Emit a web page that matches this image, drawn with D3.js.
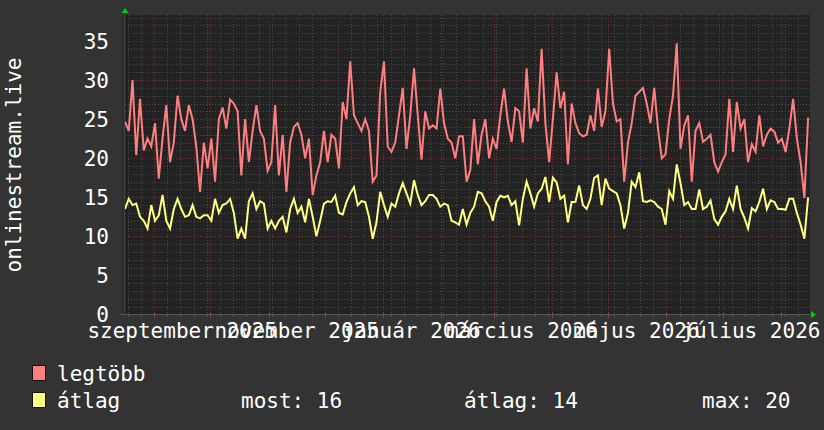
<!DOCTYPE html>
<html><head><meta charset="utf-8">
<script src="https://cdn.jsdelivr.net/npm/d3@7"></script>
<style>body{margin:0;background:#333333;} svg{display:block}</style>
</head><body>
<svg id="c" width="824" height="430"></svg>
<script>
// ---- data ----
const startDate = "2025-08-16T12:00:00Z";
const stepDays = 2;
const maxValues = [
 24.7,23.5,30,20.4,27.6,21,22.5,21.5,24.5,17.4,
 22.5,26.8,19.5,22,28,25,23.5,26.8,25,21.5,
 15.7,22,18.7,22.5,17,25,26.5,23.8,27.5,27,
 26,17.8,25,19.5,23.5,26.8,23.5,22.5,18.4,19.5,
 26.8,17.8,23,15.7,22,24,
 24.5,23,20,22.5,15.3,17.8,19.5,23.5,19.5,23.0,
 22.5,18.7,27.2,25,32.4,25.5,24.5,23.5,25,23.5,
 17,17.8,28.5,32.4,21.5,20.8,22,25.5,29,21.2,
 25.5,31.5,25.5,19.8,26,23.8,24.2,23.8,28.9,24.5,
 22.5,22,20,22.8,22.8,17,
 18.5,25,19.2,23,25,20,22.5,21.2,25.5,28.9,
 24.7,22.1,26.4,26,22,31.5,23.8,26.4,24.7,34,
 24.5,19.5,25,31,26.4,28.5,19.2,27,24.5,23.2,
 22.8,23,25.5,23.5,28.9,24,26,34,27,24.7,
 25,17,22,24.5,28,28.5,
 29,27,24.5,29,23.8,20,20.5,25,28,34.7,
 21.2,24.2,25.5,17,23.5,24.5,22.1,22.5,23,19.5,
 18.3,19.5,20.5,27.6,20.8,27.2,23.8,25,19.5,21.8,
 20.8,25.5,21.5,23,23.8,23.4,22,22.5,20.8,23.8,
 27.6,22.5,19.5,14.9,25.2
];
const avgValues = [
 13.5,14.8,14.0,14.2,12.5,12,11,14,12,12.7,
 15.3,12,11,13.5,14.8,13.5,12.5,12.7,14,12.5,
 12.3,12.7,12.7,12,14.8,13,14,14.2,14.8,13,
 9.7,11,9.7,14.5,15.5,13.5,14.5,14.2,11,12,
 11,12,12.5,10.5,13.5,14.8,
 13.0,13.8,11.8,14.8,12.5,10,12,14.2,14.5,14.4,
 15.2,13,12.8,14.4,15.5,16.3,14,14.5,14.4,12.5,
 9.7,11.8,15.7,14,12.5,14.2,13.8,15.5,16.8,15.5,
 14.2,17.2,15.3,14,14.5,15.3,15.3,14.8,13.8,14.2,
 14,12,11.8,11.5,13.5,11.5,
 13,13.8,15.7,15.5,14.5,13.8,12,14.4,15.2,15,
 15.2,14,14.5,11.4,14.8,17,15.5,13.8,15.5,16.1,
 17.6,14.4,17.5,16.9,14.8,15.2,11.8,14.4,14.4,16.5,
 14,13.5,14.8,17.5,17.8,14,17.4,16.1,15.8,15.5,
 14,11,13,17,16.3,18.2,
 14.5,14.4,14.6,14.4,13.8,13.5,11.5,15.8,14.8,19.2,
 16.8,14,14.4,13.5,13.5,16,13.5,13.8,14.6,12.2,
 11.5,12.5,13.2,14.8,13.5,16.5,13.5,12.4,11,13.6,
 13.2,14.4,16.1,13.5,14.6,14.4,13.5,13.5,13.4,14.8,
 14.8,13,11.5,9.7,15.0
];
const yTicks = [0,5,10,15,20,25,30,35];
const xLabelMonths = ["2025-09-01","2025-11-01","2026-01-01","2026-03-01","2026-05-01","2026-07-01"];
const xLabels = ["szeptember 2025","november 2025","január 2026","március 2026","május 2026","július 2026"];
const yTitle = "onlinestream.live";
const seriesNames = ["legtöbb","átlag"];
const statsLabels = ["most: 16","átlag: 14","max: 20"];
const domainStart = "2025-08-16T12:00:00Z";
const domainEnd = "2026-08-16T12:00:00Z";

// ---- drawing ----
const FONT = "'DejaVu Sans Mono', monospace";
const svg = d3.select("#c");
const L = 125, R = 810, T = 15, B = 314.5;
const x = d3.scaleUtc().domain([new Date(domainStart), new Date(domainEnd)]).range([L, R]);
const y = d3.scaleLinear().domain([0, 38.33]).range([B, T]);

const t0 = new Date(startDate).getTime();
const dayMs = 86400000;
const ptsMax = maxValues.map((v,i)=>({t:new Date(t0 + i*stepDays*dayMs), v}));
const ptsAvg = avgValues.map((v,i)=>({t:new Date(t0 + i*stepDays*dayMs), v}));

// background
svg.append("rect").attr("x",0).attr("y",0).attr("width",824).attr("height",430).attr("fill","#333333");
svg.append("rect").attr("x",L-2).attr("y",T).attr("width",R-L+2).attr("height",B-T).attr("fill","#222222");
svg.append("rect").attr("x",L-3).attr("y",T).attr("width",3).attr("height",B-T).attr("fill","#2c2c2c");

const grid = svg.append("g");
// horizontal minor grid
d3.range(1, 39).forEach(v=>{
  if (v % 5 === 0) return;
  grid.append("line").attr("x1",L).attr("x2",R).attr("y1",Math.round(y(v))+0.5).attr("y2",Math.round(y(v))+0.5)
    .attr("stroke","#4a4a4a").attr("stroke-width",1).attr("stroke-dasharray","1,2");
});
// vertical minor grid (weeks)
const weeks = d3.utcMonday.range(x.domain()[0], x.domain()[1]);
weeks.forEach(d=>{
  const xx = Math.round(x(d))+0.5;
  grid.append("line").attr("x1",xx).attr("x2",xx).attr("y1",T).attr("y2",B)
    .attr("stroke","#4a4a4a").attr("stroke-width",1).attr("stroke-dasharray","1,2");
  grid.append("line").attr("x1",xx).attr("x2",xx).attr("y1",B).attr("y2",B+2.5)
    .attr("stroke","#555").attr("stroke-width",1);
});
// horizontal major grid
yTicks.filter(v=>v>0).forEach(v=>{
  grid.append("line").attr("x1",L).attr("x2",R).attr("y1",Math.round(y(v))+0.5).attr("y2",Math.round(y(v))+0.5)
    .attr("stroke","#7a3434").attr("stroke-width",1).attr("stroke-dasharray","1,2");
});
// vertical major grid (months)
const months = d3.utcMonth.range(x.domain()[0], x.domain()[1]);
months.forEach(d=>{
  const xx = Math.round(x(d))+0.5;
  grid.append("line").attr("x1",xx).attr("x2",xx).attr("y1",T).attr("y2",B)
    .attr("stroke","#7a3434").attr("stroke-width",1).attr("stroke-dasharray","1,2");
  grid.append("line").attr("x1",xx).attr("x2",xx).attr("y1",B-2).attr("y2",B+3.5)
    .attr("stroke","#a03a3a").attr("stroke-width",1);
});

// lines
const line = d3.line().x(d=>x(d.t)).y(d=>y(d.v));
svg.append("path").datum(ptsMax).attr("d",line).attr("fill","none")
  .attr("stroke","#ff7f7f").attr("stroke-width",2);
svg.append("path").datum(ptsAvg).attr("d",line).attr("fill","none")
  .attr("stroke","#ffff7f").attr("stroke-width",2);

// axes
svg.append("line").attr("x1",L-5).attr("x2",R+2).attr("y1",B).attr("y2",B).attr("stroke","#555").attr("stroke-width",1);
svg.append("line").attr("x1",L-0.5).attr("x2",L-0.5).attr("y1",T-2).attr("y2",B+3).attr("stroke","#444").attr("stroke-width",1);
// arrows
svg.append("path").attr("d",`M${L-3.5},13 L${L+3.5},13 L${L},8 Z`).attr("fill","#00cc00");
svg.append("path").attr("d",`M${R+1},${B-3.5} L${R+1},${B+3.5} L${R+6},${B} Z`).attr("fill","#00cc00");

// y tick labels
svg.append("g").selectAll("text").data(yTicks).join("text")
  .attr("x",109).attr("y",d=>y(d)).attr("dy","0.36em").attr("text-anchor","end")
  .attr("font-family",FONT).attr("font-size",21).attr("fill","#ffffff").text(d=>d);

// x labels (centered half a month after the month start)
svg.append("g").selectAll("text").data(xLabelMonths).join("text")
  .attr("x",(d)=>x(new Date(new Date(d+"T00:00:00Z").getTime()+15*dayMs)))
  .attr("y",337.5).attr("text-anchor","middle")
  .attr("font-family",FONT).attr("font-size",21).attr("fill","#ffffff")
  .text((d,i)=>xLabels[i]);

// y title
svg.append("text").attr("transform","translate(20.5,165) rotate(-90)")
  .attr("text-anchor","middle").attr("font-family",FONT).attr("font-size",21).attr("fill","#ffffff").text(yTitle);

// legend
const legColors = ["#ff7f7f","#ffff7f"];
const legY = [381, 408];
seriesNames.forEach((n,i)=>{
  svg.append("rect").attr("x",32.5).attr("y",legY[i]-15.5).attr("width",13).attr("height",15)
    .attr("fill",legColors[i]).attr("stroke","#111").attr("stroke-width",1);
  svg.append("text").attr("x",57).attr("y",legY[i]).attr("font-family",FONT).attr("font-size",21)
    .attr("fill","#ffffff").text(n);
});
const statX = [241, 464, 702];
statsLabels.forEach((s,i)=>{
  svg.append("text").attr("x",statX[i]).attr("y",legY[1]).attr("font-family",FONT).attr("font-size",21)
    .attr("fill","#ffffff").text(s);
});
</script>
</body></html>
